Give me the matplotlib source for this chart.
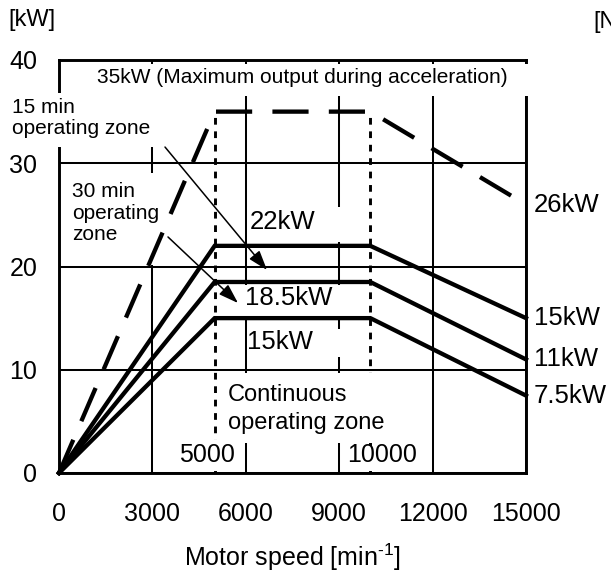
import matplotlib
matplotlib.use("Agg")
import matplotlib.pyplot as plt
from matplotlib.patches import Rectangle

plt.rcParams['font.family'] = ['Liberation Sans', 'DejaVu Sans']

# Output curves of the spindle motor (speed in min^-1, output in kW)
speed = [0, 5000, 10000, 15000]
accel_max_kw = [0, 35, 35, 26]
rated_15min_kw = [0, 22, 22, 15]
rated_30min_kw = [0, 18.5, 18.5, 11]
continuous_kw = [0, 15, 15, 7.5]
base_speeds = [5000, 10000]

x_ticks = [0, 3000, 6000, 9000, 12000, 15000]
y_ticks = [0, 10, 20, 30, 40]

W, H = 611, 575
fig = plt.figure(figsize=(W / 100, H / 100), dpi=100)
ax = fig.add_axes([59 / W, 1 - 473 / H, 467 / W, 413 / H])
ax.set_xlim(0, 15000)
ax.set_ylim(0, 40)
ax.set_xticks(x_ticks)
ax.set_yticks(y_ticks)
ax.tick_params(axis='both', length=0, labelsize=18)
ax.tick_params(axis='y', pad=15.5)
ax.tick_params(axis='x', pad=21)
ax.set_axisbelow(True)
ax.grid(True, color='black', linewidth=1.45)
for sp in ax.spines.values():
    sp.set_linewidth(2.1)

ax.set_xlabel('Motor speed [min$^{\\mathregular{\u20101}}$]', fontsize=18, labelpad=11)

# base-speed markers
for s in base_speeds:
    ax.plot([s, s], [0, accel_max_kw[1]], color='black', linewidth=2.1,
            linestyle=(0, (2.3, 2.3)), zorder=2)

# white backgrounds behind the annotations (hide grid where text sits)
masks = [
    (514, 36.5, 15200, 39.6),      # acceleration note
    (-1640, 31.57, 3115, 36.8),    # 15 min note
    (193, 20.15, 3115, 29.06),     # 30 min note
    (6040, 22.37, 9190, 25.76),    # 22kW
    (5815, 15.21, 9190, 18.21),    # 18.5kW
    (6040, 11.23, 9190, 13.95),    # 15kW
    (5107, 2.91, 10632, 9.69),     # continuous note
    (3822, 0.22, 5846, 3.2),       # 5000
    (9122, 0.22, 11660, 2.61),     # 10000
]
for x0, y0, x1, y1 in masks:
    ax.add_patch(Rectangle((x0, y0), x1 - x0, y1 - y0, facecolor='white',
                           edgecolor='none', zorder=3, clip_on=False))

# curves
ax.plot(speed, accel_max_kw, color='black', linewidth=3.1,
        dashes=(8.4, 4.7), zorder=4, clip_on=False)
for series in (rated_15min_kw, rated_30min_kw, continuous_kw):
    ax.plot(speed, series, color='black', linewidth=3.1, zorder=4,
            solid_joinstyle='miter', clip_on=False)

def kw(v):
    return f'{v:g}kW'

small = 15
big = 18.5

ax.text(1220, 38.26, f'{kw(accel_max_kw[1])} (Maximum output during acceleration)',
        fontsize=small, ha='left', va='center', zorder=5)
ax.text(-1510, 34.38, '15 min\noperating zone', fontsize=small, ha='left',
        va='center', linespacing=1.13, zorder=5, clip_on=False)
ax.text(408, 25.18, '30 min\noperating\nzone', fontsize=small, ha='left',
        va='center', linespacing=1.15, zorder=5)
ax.text(6135, 24.3, kw(rated_15min_kw[1]), fontsize=big, ha='left',
        va='center', zorder=5)
ax.text(5975, 16.95, kw(rated_30min_kw[1]), fontsize=big, ha='left',
        va='center', zorder=5)
ax.text(6039, 12.7, kw(continuous_kw[1]), fontsize=big, ha='left',
        va='center', zorder=5)
ax.text(5428, 6.2, 'Continuous\noperating zone', fontsize=17, ha='left',
        va='center', linespacing=1.36, zorder=5)
ax.text(4754, 1.74, f'{base_speeds[0]}', fontsize=18, ha='center',
        va='center', zorder=5)
ax.text(10375, 1.74, f'{base_speeds[1]}', fontsize=18, ha='center',
        va='center', zorder=5)

# end-of-range values on the right
for series in (accel_max_kw, rated_15min_kw, rated_30min_kw, continuous_kw):
    ax.annotate(kw(series[-1]), xy=(speed[-1], series[-1]), xytext=(5.5, 0),
                textcoords='offset points', fontsize=big, ha='left',
                va='center', annotation_clip=False)

arrow = dict(arrowstyle='-|>,head_length=0.6,head_width=0.2', color='black',
             linewidth=1.1, mutation_scale=20, shrinkA=0, shrinkB=0)
ax.annotate('', xy=(6681, 19.66), xytext=(3405, 31.57), arrowprops=arrow,
            zorder=4)
ax.annotate('', xy=(5750, 16.46), xytext=(3501, 22.86), arrowprops=arrow,
            zorder=4)

fig.text(8 / W, 1 - 20 / H, '[kW]', fontsize=17, ha='left', va='center')
fig.text(593 / W, 1 - 22 / H, '[Nm]', fontsize=17, ha='left', va='center')

fig.savefig('out.png', dpi=100)
